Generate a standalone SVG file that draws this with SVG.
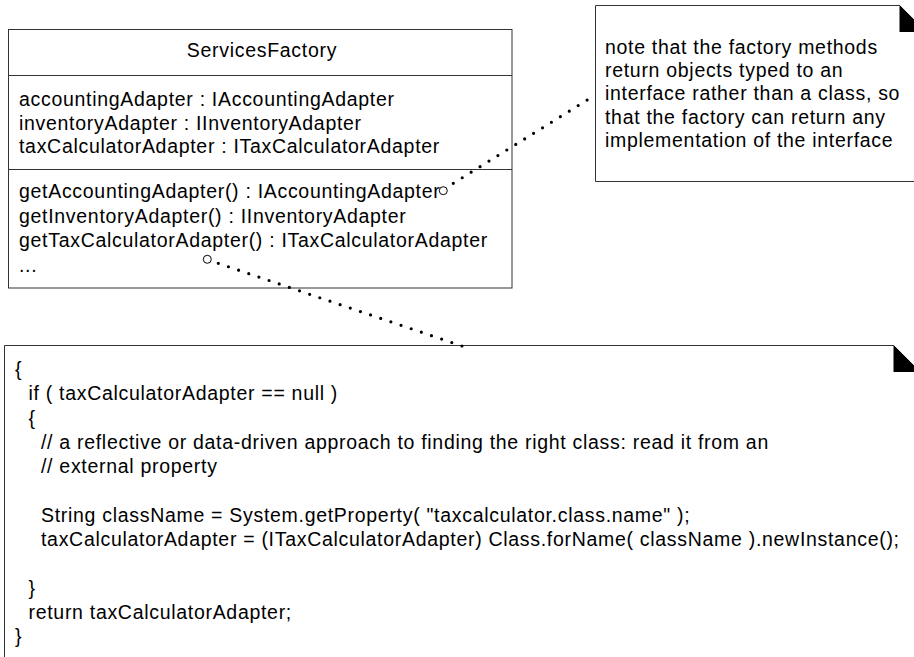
<svg xmlns="http://www.w3.org/2000/svg" width="914" height="657" viewBox="0 0 914 657">
  <style>
    text { font-family: "Liberation Sans", Arial, sans-serif; font-size: 19.5px; letter-spacing: 0.7px; fill: #000; }
    .box { fill: #fff; stroke: #333; stroke-width: 1; }
    .sep { stroke: #333; stroke-width: 1; }
    .ear { fill: #000; stroke: none; }
    .dots { fill: none; stroke: #000; stroke-width: 3.2; stroke-linecap: round; }
    .anchor { fill: #fff; stroke: #000; stroke-width: 1; }
  </style>
  <rect width="914" height="657" fill="#fff"/>

  <g id="ServicesFactory">
    <rect class="box" x="8.5" y="29.5" width="503.5" height="258.5"/>
    <line class="sep" x1="8.5" y1="75.5" x2="512" y2="75.5"/>
    <line class="sep" x1="8.5" y1="169.5" x2="512" y2="169.5"/>
    <text x="262" y="57" text-anchor="middle">ServicesFactory</text>
    <text x="19" y="106">accountingAdapter : IAccountingAdapter</text>
    <text x="19" y="129.5">inventoryAdapter : IInventoryAdapter</text>
    <text x="19" y="153">taxCalculatorAdapter : ITaxCalculatorAdapter</text>
    <text x="19" y="198">getAccountingAdapter() : IAccountingAdapter</text>
    <text x="19" y="222.5">getInventoryAdapter() : IInventoryAdapter</text>
    <text x="19" y="247">getTaxCalculatorAdapter() : ITaxCalculatorAdapter</text>
    <text x="19" y="271.5">...</text>
  </g>

  <g id="note-interface">
    <polygon class="box" points="595.5,5.5 899.5,5.5 926,32 926,181.5 595.5,181.5"/>
    <polygon class="ear" points="899.5,5 899.5,32 926.5,32"/>
    <text x="605" y="54">note that the factory methods</text>
    <text x="605" y="77.2">return objects typed to an</text>
    <text x="605" y="100.4">interface rather than a class, so</text>
    <text x="605" y="123.6">that the factory can return any</text>
    <text x="605" y="146.8">implementation of the interface</text>
  </g>

  <g id="note-code">
    <polygon class="box" points="4.5,345.5 893.5,345.5 920,372 920,670 4.5,670"/>
    <polygon class="ear" points="893.5,345 893.5,372 920.5,372"/>
    <text x="15" y="376">{</text>
    <text x="28.5" y="400.3">if ( taxCalculatorAdapter == null )</text>
    <text x="28.5" y="424.6">{</text>
    <text x="41" y="448.9">// a reflective or data-driven approach to finding the right class: read it from an</text>
    <text x="41" y="473.2">// external property</text>
    <text x="41" y="521.8">String className = System.getProperty( "taxcalculator.class.name" );</text>
    <text x="41" y="546.1">taxCalculatorAdapter = (ITaxCalculatorAdapter) Class.forName( className ).newInstance();</text>
    <text x="28.5" y="594.7">}</text>
    <text x="28.5" y="619">return taxCalculatorAdapter;</text>
    <text x="15" y="643.3">}</text>
  </g>

  <g id="connectors">
    <path class="dots" d="M453.3,183.3 L596,94.5" stroke-dasharray="0 10.506"/>
    <circle class="anchor" cx="443.3" cy="190.7" r="4"/>
    <path class="dots" d="M218.3,263.3 L462,346" stroke-dasharray="0 10.72"/>
    <circle class="anchor" cx="207.3" cy="259.3" r="4"/>
  </g>
</svg>
